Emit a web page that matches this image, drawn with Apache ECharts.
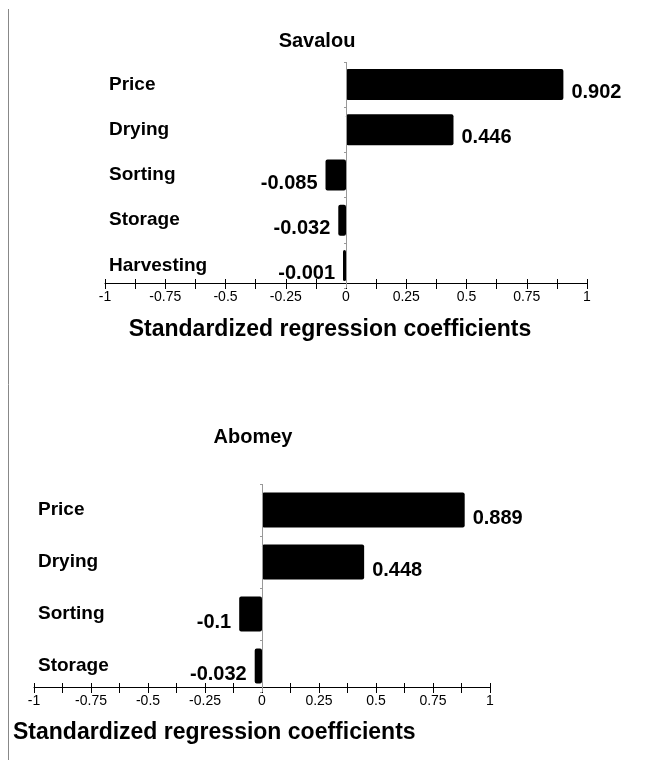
<!DOCTYPE html>
<html>
<head>
<meta charset="utf-8">
<script src="https://cdn.jsdelivr.net/npm/echarts@6/dist/echarts.min.js"></script>
<style>
  html, body { margin: 0; padding: 0; background: #fff; }
  #chart { width: 646px; height: 760px; }
</style>
</head>
<body>
<div id="chart"></div>
<script>
// Savalou
const savalouCats = ['Price', 'Drying', 'Sorting', 'Storage', 'Harvesting'];
const savalouVals = [0.902, 0.446, -0.085, -0.032, -0.001];
// Abomey
const abomeyCats = ['Price', 'Drying', 'Sorting', 'Storage'];
const abomeyVals = [0.889, 0.448, -0.1, -0.032];

const FONT = '"Liberation Sans", Arial, sans-serif';

// two x axes per grid: one for ticks below, one for ticks above the line
function xAxes(gridIndex, offset) {
  return [
    {
      type: 'value', gridIndex: gridIndex, min: -1, max: 1, interval: 0.25, offset: offset,
      axisLine: { show: true, lineStyle: { color: '#000', width: 1 } },
      axisTick: { show: true, length: 6, lineStyle: { color: '#000' } },
      minorTick: { show: true, splitNumber: 2, length: 6, lineStyle: { color: '#000' } },
      axisLabel: { color: '#000', fontSize: 14, fontFamily: FONT, margin: 7 },
      splitLine: { show: false }
    },
    {
      type: 'value', gridIndex: gridIndex, min: -1, max: 1, interval: 0.25, offset: offset,
      position: 'bottom',
      axisLine: { show: false },
      axisTick: { show: true, inside: true, length: 4, lineStyle: { color: '#000' } },
      minorTick: { show: true, splitNumber: 2, length: 4, lineStyle: { color: '#000' } },
      axisLabel: { show: false },
      splitLine: { show: false }
    }
  ];
}

function yAxis(gridIndex, cats, margin) {
  return {
    type: 'category', gridIndex: gridIndex, data: cats, inverse: true,
    axisLine: { show: false },
    axisTick: { show: true, length: 2, lineStyle: { color: '#999' } },
    axisLabel: {
      inside: true, margin: margin, color: '#000',
      fontSize: 19, fontWeight: 'bold', fontFamily: FONT
    }
  };
}

function barSeries(xIndex, yIndex, vals, barWidth) {
  return {
    type: 'bar',
    xAxisIndex: xIndex,
    yAxisIndex: yIndex,
    barWidth: barWidth,
    barMinHeight: 3,
    itemStyle: { color: '#000', borderRadius: 2 },
    data: vals.map(function (v) {
      return {
        value: v,
        label: { position: v < 0 ? 'left' : 'right' }
      };
    }),
    label: {
      show: true, distance: 8, offset: [0, 8],
      color: '#000', fontSize: 20, fontWeight: 'bold', fontFamily: FONT,
      formatter: function (p) { return String(p.value); }
    },
    markLine: {
      silent: true, symbol: 'none',
      label: { show: false },
      lineStyle: { color: '#999', type: 'solid', width: 1 },
      data: [{ xAxis: 0 }]
    }
  };
}

const chart = echarts.init(document.getElementById('chart'));
chart.setOption({
  animation: false,
  title: [
    { text: 'Savalou', left: 312, top: 26, textAlign: 'center',
      textStyle: { fontSize: 20, fontWeight: 'bold', color: '#000', fontFamily: FONT } },
    { text: 'Abomey', left: 248, top: 422, textAlign: 'center',
      textStyle: { fontSize: 20, fontWeight: 'bold', color: '#000', fontFamily: FONT } }
  ],
  grid: [
    { left: 105, right: 59, top: 62, height: 226 },
    { left: 34, right: 156, top: 484, height: 208 }
  ],
  xAxis: xAxes(0, -5).concat(xAxes(1, -5)),
  yAxis: [yAxis(0, savalouCats, 4), yAxis(1, abomeyCats, 4)],
  series: [
    barSeries(0, 0, savalouVals, 31),
    barSeries(2, 1, abomeyVals, 35)
  ],
  graphic: [
    { type: 'line', shape: { x1: 8.5, y1: 9, x2: 8.5, y2: 760 },
      style: { stroke: '#888', lineWidth: 1 } },
    { type: 'text', x: 330, y: 330,
      style: { text: 'Standardized regression coefficients', align: 'center', verticalAlign: 'middle',
        fill: '#000', font: 'bold 23px ' + FONT } },
    { type: 'text', x: 13, y: 733,
      style: { text: 'Standardized regression coefficients', align: 'left', verticalAlign: 'middle',
        fill: '#000', font: 'bold 23px ' + FONT } }
  ]
});
</script>
</body>
</html>
